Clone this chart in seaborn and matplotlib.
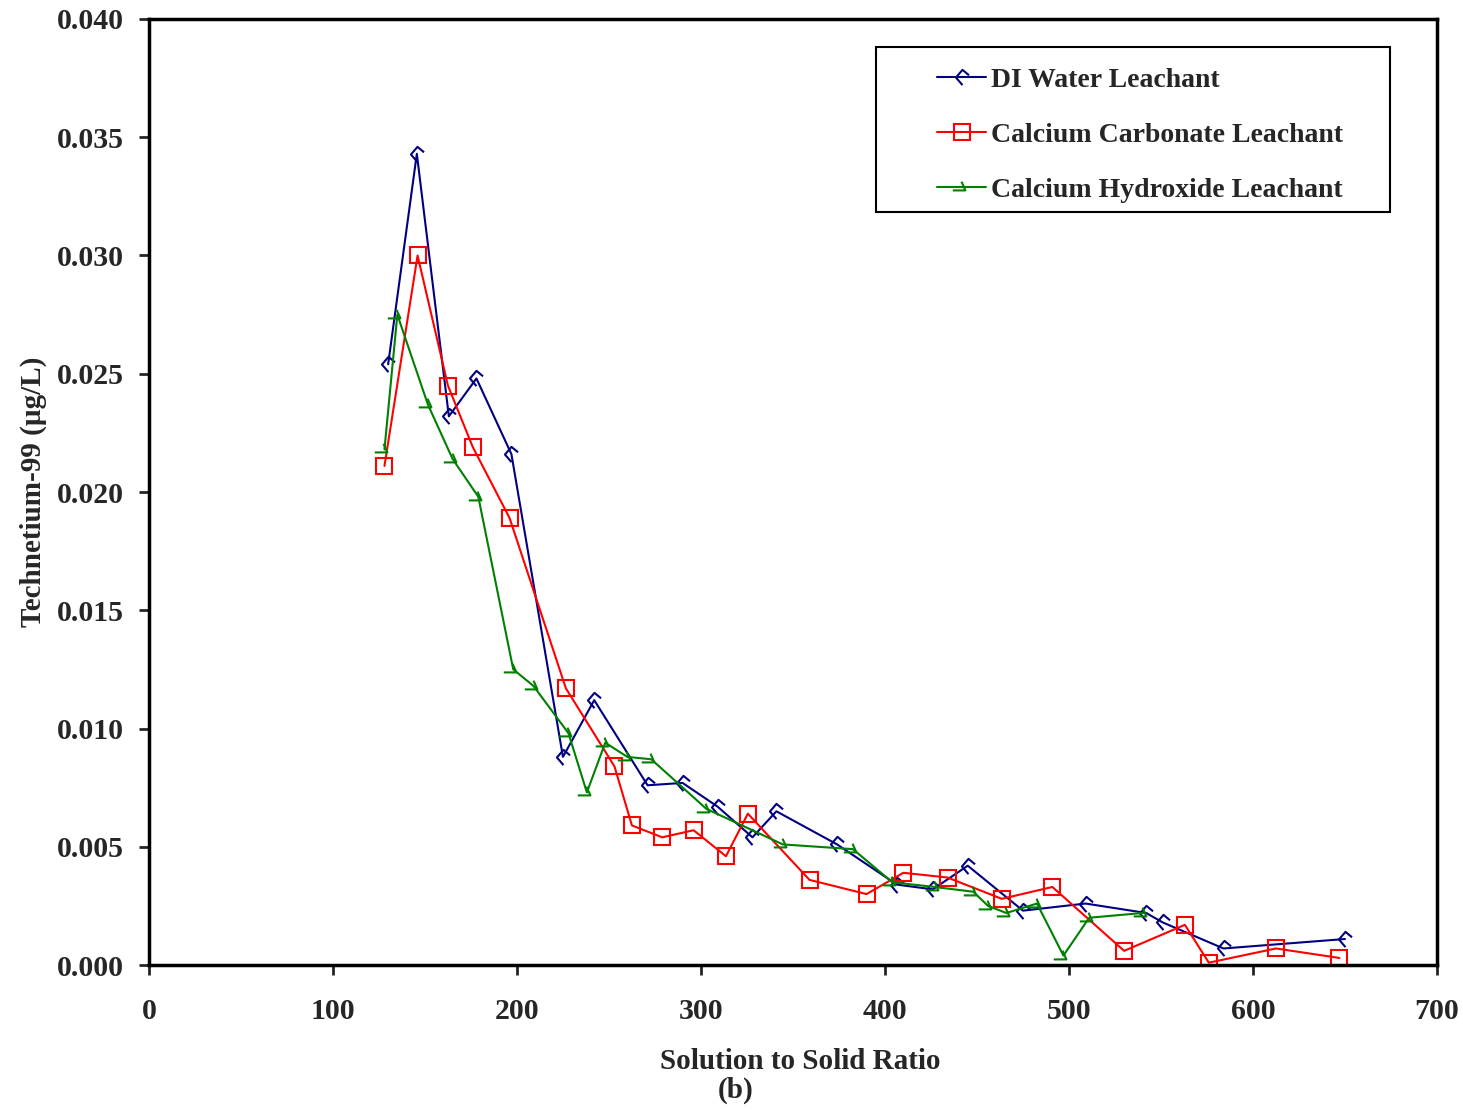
import seaborn as sns
import matplotlib.pyplot as plt
from matplotlib.path import Path
from matplotlib.patches import Rectangle

# DI water leachant
di_x = [130, 145.6, 163, 178, 197, 225, 242, 271, 290, 309, 328, 341, 374, 406.5,
        426, 445, 475, 509, 542, 551, 584, 650]
di_y = [0.0254, 0.0343, 0.0232, 0.0248, 0.0216, 0.0088, 0.0112, 0.0076, 0.0077,
        0.0067, 0.0054, 0.0065, 0.0051, 0.0034, 0.0032, 0.0042, 0.0023, 0.0026,
        0.0022, 0.0018, 0.0007, 0.0011]

# Calcium carbonate leachant
cc_x = [128, 146, 162.5, 176, 196, 226.6, 253, 262.5, 279, 296, 313.6, 325.5, 359,
        390, 410, 434, 463.5, 491, 530, 563, 576, 612.5, 647]
cc_y = [0.0211, 0.0300, 0.0245, 0.0219, 0.0189, 0.0117, 0.0084, 0.0059, 0.0054,
        0.0057, 0.0046, 0.0064, 0.0036, 0.0030, 0.0039, 0.0037, 0.0028, 0.0033,
        0.0006, 0.0017, 0.0001, 0.0007, 0.0003]

# Calcium hydroxide leachant
ch_x = [128, 135, 151.6, 165, 179, 198, 209, 228, 238, 248, 260, 273, 303, 344.5,
        382.6, 404, 427, 448, 456, 466, 482.6, 497, 511, 540]
ch_y = [0.0218, 0.0275, 0.0237, 0.0214, 0.0198, 0.0125, 0.0118, 0.0098, 0.0073,
        0.0094, 0.0088, 0.0087, 0.0066, 0.0051, 0.0049, 0.0035, 0.0033, 0.0031,
        0.0025, 0.0022, 0.0026, 0.0004, 0.0020, 0.0022]

x_ticks = [0, 100, 200, 300, 400, 500, 600, 700]
y_ticks = [0.000, 0.005, 0.010, 0.015, 0.020, 0.025, 0.030, 0.035, 0.040]

# odd Excel-style markers
di_marker = Path([(0.6, 0.2), (0.0, 0.7), (-0.6, 0.0), (0.0, -0.7)])
ch_marker = Path([(-1.0, -0.3), (0.3, -0.3), (-0.1, 0.6)])

sns.set_style("white")
plt.rcParams['font.family'] = ['Liberation Serif', 'DejaVu Serif']
plt.rcParams['font.weight'] = 'bold'

fig = plt.figure(figsize=(14.63, 11.10), dpi=100)
ax = fig.add_axes([0.1018, 0.1306, 0.8804, 0.8523])

sns.lineplot(x=di_x, y=di_y, sort=False, estimator=None, ax=ax, color="#000080",
             marker=di_marker, markersize=11, markerfacecolor="none",
             markeredgecolor="#000080", markeredgewidth=1.5, linewidth=1.5,
             label="DI Water Leachant")
sns.lineplot(x=cc_x, y=cc_y, sort=False, estimator=None, ax=ax, color="#ff0000",
             marker="s", markersize=11, markerfacecolor="none",
             markeredgecolor="#ff0000", markeredgewidth=1.5, linewidth=1.5,
             label="Calcium Carbonate Leachant")
sns.lineplot(x=ch_x, y=ch_y, sort=False, estimator=None, ax=ax, color="#008000",
             marker=ch_marker, markersize=14, markerfacecolor="none",
             markeredgecolor="#008000", markeredgewidth=1.5, linewidth=1.5,
             label="Calcium Hydroxide Leachant")

ax.set_xlim(0, 700)
ax.set_ylim(0, 0.040)
ax.set_xticks(x_ticks)
ax.set_yticks(y_ticks)
ax.set_yticklabels([f"{v:.3f}" for v in y_ticks])
ax.tick_params(axis="both", direction="out", length=7, width=2, labelsize=21.5,
               left=True, bottom=True)
ax.tick_params(axis="x", pad=17)
ax.tick_params(axis="y", pad=11)
for s in ax.spines.values():
    s.set_linewidth(2.5)
    s.set_color("black")

ax.set_xlabel("Solution to Solid Ratio", fontsize=21, fontweight="bold", labelpad=16)
ax.xaxis.label.set_x(0.506)
ax.set_ylabel("Technetium-99 (µg/L)", fontsize=21, fontweight="bold", labelpad=7)
fig.text(0.503, 0.011, "(b)", fontsize=21, fontweight="bold", ha="center")

# legend frame drawn separately so the entries sit with room on the left
ax.add_patch(Rectangle((0.5644, 0.796), 0.3991, 0.1744, transform=ax.transAxes,
                       fill=True, facecolor="white", edgecolor="black",
                       linewidth=1.5, zorder=4))
leg = ax.legend(loc="upper left", bbox_to_anchor=(0.612, 0.949), fontsize=20,
                frameon=False, handlelength=1.75, labelspacing=1.07, borderpad=0,
                handletextpad=0.2, borderaxespad=0)
leg.set_zorder(5)

fig.savefig("out.png", dpi=100)
